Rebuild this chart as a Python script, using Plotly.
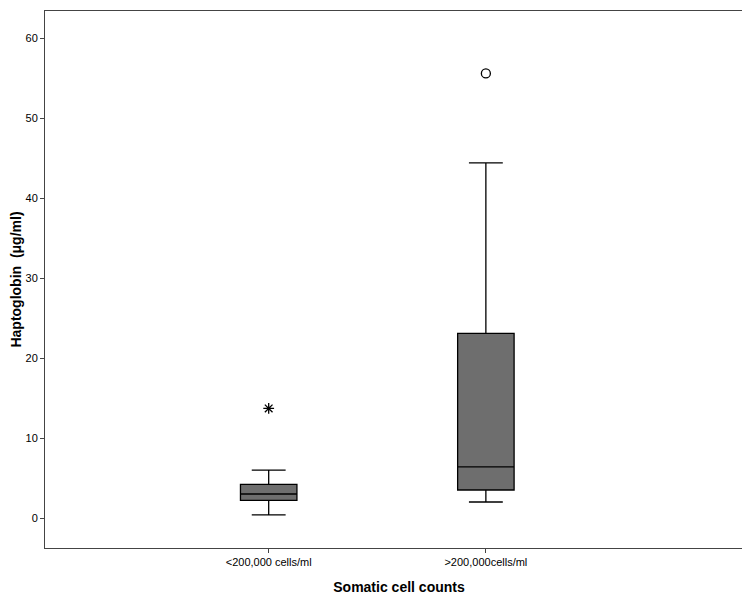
import plotly.graph_objects as go

categories = ["<200,000 cells/ml", ">200,000cells/ml"]
xpos = [0, 1]
lower = [0.4, 2.0]
q1 = [2.2, 3.5]
median = [3.0, 6.4]
q3 = [4.2, 23.1]
upper = [6.0, 44.4]
star_outliers = [13.7]
circle_outliers = [55.6]

fig = go.Figure()
fig.add_trace(go.Box(x=xpos, q1=q1, median=median, q3=q3, lowerfence=lower, upperfence=upper,
                     fillcolor="#6e6e6e", line=dict(color="black", width=1.3), width=0.26,
                     whiskerwidth=0.6, boxpoints=False, showlegend=False))
fig.add_trace(go.Scatter(x=[xpos[0]], y=star_outliers, mode="markers",
                         marker=dict(symbol="asterisk-open", size=9, color="black", line=dict(width=1.3, color="black")),
                         showlegend=False))
fig.add_trace(go.Scatter(x=[xpos[1]], y=circle_outliers, mode="markers",
                         marker=dict(symbol="circle-open", size=9, color="black", line=dict(width=1.3, color="black")),
                         showlegend=False))
fig.update_layout(
    width=750, height=592, margin=dict(l=37, r=5, t=3, b=52),
    plot_bgcolor="white", paper_bgcolor="white",
    font=dict(family="Arial, Liberation Sans", color="black", size=11),
    xaxis=dict(range=[-1.03, 2.23], tickvals=xpos, ticktext=categories, showgrid=False, automargin=False,
               zeroline=False, showline=True, mirror=True, linecolor="#444", ticks="outside",
               ticklen=4, tickfont=dict(color="black"),
               title=dict(text="<b>Somatic cell counts</b>", font=dict(size=14), standoff=14)),
    yaxis=dict(range=[-3.75, 63.4], tickvals=[0, 10, 20, 30, 40, 50, 60], showgrid=False, automargin=False,
               zeroline=False, showline=True, mirror=True, linecolor="#444", ticks="outside",
               ticklen=4, tickfont=dict(color="black"),
               title=dict(text="<b>Haptoglobin  (μg/ml)</b>", font=dict(size=14), standoff=2)),
)
fig.write_html("out.html")
